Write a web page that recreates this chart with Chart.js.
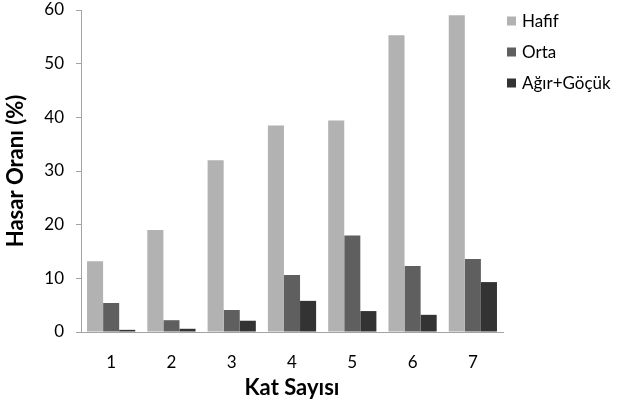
<!DOCTYPE html>
<html>
<head>
<meta charset="utf-8">
<script src="https://cdn.jsdelivr.net/npm/chart.js@4/dist/chart.umd.min.js"></script>
<style>
  html, body { margin: 0; padding: 0; background: #fff; }
  #wrap { width: 618px; height: 406px; position: relative; }
</style>
</head>
<body>
<div id="wrap"><canvas id="c" width="618" height="406"></canvas></div>
<script>
// Kat sayısına göre hasar oranları (%)
const katSayisi = ['1', '2', '3', '4', '5', '6', '7'];
const hafif = [13.2, 19.0, 32.0, 38.5, 39.4, 55.3, 59.0];
const orta = [5.4, 2.2, 4.1, 10.6, 18.0, 12.3, 13.6];
const agirGocuk = [0.4, 0.6, 2.1, 5.8, 3.9, 3.2, 9.3];
const seriAdlari = ['Hafif', 'Orta', 'Ağır+Göçük'];
const seriRenkleri = ['#b2b2b2', '#5f5f5f', '#333333'];
const yTicks = [0, 10, 20, 30, 40, 50, 60];

const FONT = 'Lato, "Open Sans", sans-serif';
const AXIS = '#a3a3a3';

// Sağ taraftaki açıklama kutusu
const sagAciklama = {
  id: 'sagAciklama',
  afterDraw(chart) {
    const ctx = chart.ctx;
    ctx.save();
    ctx.font = '17px ' + FONT;
    ctx.textBaseline = 'middle';
    ctx.textAlign = 'left';
    chart.data.datasets.forEach((ds, i) => {
      const cy = 21 + i * 31;
      ctx.fillStyle = ds.backgroundColor;
      ctx.fillRect(507, cy - 4.5, 9, 9);
      ctx.fillStyle = '#000';
      ctx.fillText(ds.label, 522, cy + 1);
    });
    ctx.restore();
  }
};

new Chart(document.getElementById('c'), {
  type: 'bar',
  data: {
    labels: katSayisi,
    datasets: [
      { label: seriAdlari[0], data: hafif, backgroundColor: seriRenkleri[0] },
      { label: seriAdlari[1], data: orta, backgroundColor: seriRenkleri[1] },
      { label: seriAdlari[2], data: agirGocuk, backgroundColor: seriRenkleri[2] }
    ]
  },
  options: {
    responsive: false,
    animation: false,
    devicePixelRatio: 1,
    layout: { padding: { left: 0, top: 10, right: 115, bottom: 0 } },
    datasets: { bar: { categoryPercentage: 0.8, barPercentage: 1.0, borderWidth: 0 } },
    plugins: {
      legend: { display: false },
      tooltip: { enabled: false }
    },
    scales: {
      x: {
        grid: { display: false, drawTicks: false },
        border: { display: true, color: AXIS, width: 1 },
        ticks: { color: '#000', font: { family: FONT, size: 17 }, padding: 20, maxRotation: 0 },
        title: {
          display: true, text: 'Kat Sayısı', color: '#000',
          font: { family: FONT, size: 22, weight: 'bold' },
          padding: { top: 0, bottom: 5 }
        },
        afterFit(scale) { scale.height = 74; scale.paddingLeft = 0; scale.paddingRight = 0; }
      },
      y: {
        min: 0, max: 60,
        afterBuildTicks(scale) { scale.ticks = yTicks.map(v => ({ value: v })); },
        grid: { drawOnChartArea: false, drawTicks: true, tickLength: 5, color: AXIS },
        border: { display: true, color: AXIS, width: 1 },
        ticks: { color: '#000', font: { family: FONT, size: 17 }, padding: 12 },
        title: {
          display: true, text: 'Hasar Oranı (%)', color: '#000',
          font: { family: FONT, size: 22, weight: 'bold' },
          padding: { top: 3, bottom: 0 }
        },
        afterFit(scale) { scale.width = 81; scale.paddingTop = 0; scale.paddingBottom = 0; }
      }
    }
  },
  plugins: [sagAciklama]
});
</script>
</body>
</html>
